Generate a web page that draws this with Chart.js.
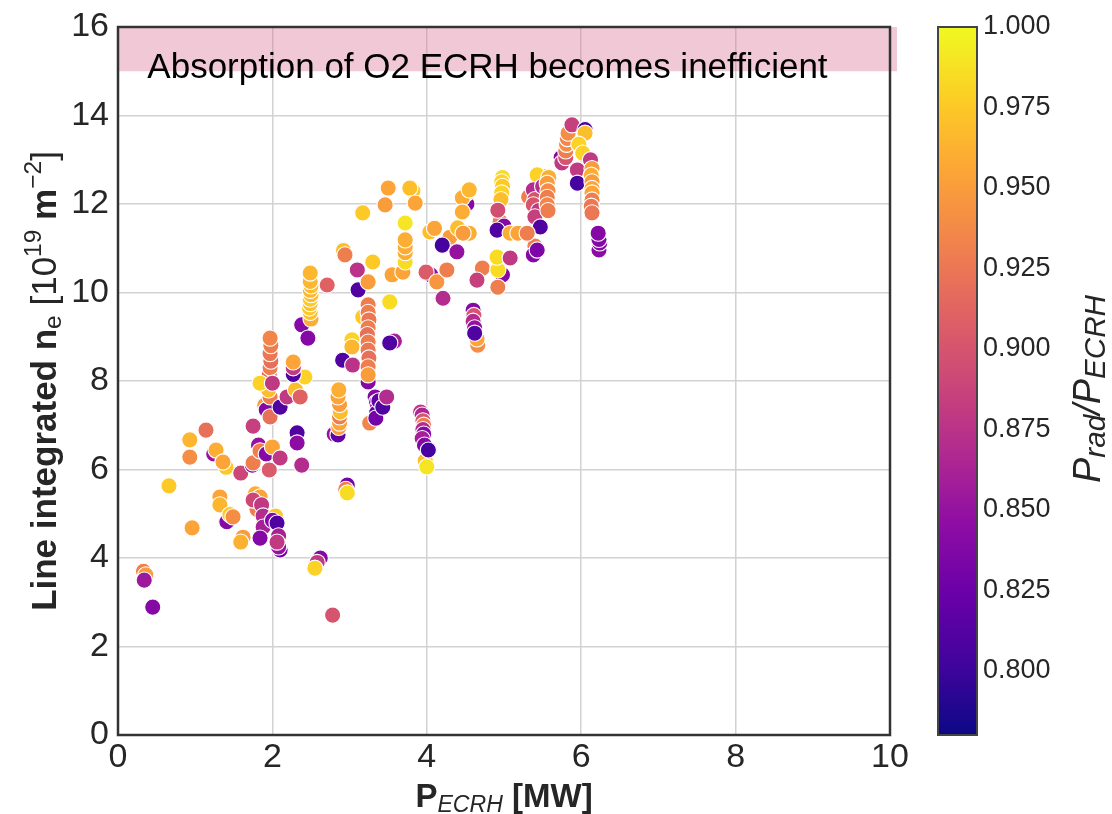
<!DOCTYPE html>
<html>
<head>
<meta charset="utf-8">
<script src="https://cdn.jsdelivr.net/npm/chart.js@4.4.1/dist/chart.umd.min.js"></script>
<style>
  html, body { margin: 0; padding: 0; background: #fff; }
  canvas { display: block; }
</style>
</head>
<body>
<canvas id="densityChart" width="1112" height="814"></canvas>
<script>
// ECRH power [MW], one line per group of shots
const pEcrh = [
  0.33, 0.36, 0.34, 0.45,
  0.66, 0.96, 0.93, 0.93, 1.14, 1.24, 1.27, 1.40, 1.36,
  1.32, 1.32, 1.41, 1.45, 1.49, 1.62, 1.59, 1.59,
  1.78, 1.84, 1.80, 1.75, 1.86, 1.88, 1.88, 2.04, 2.00, 2.06, 1.84, 2.08, 2.10, 2.08, 2.06,
  1.74, 1.75, 1.75, 1.82, 1.84, 1.92, 2.00, 1.96, 2.10, 2.32, 2.32, 2.38,
  1.97, 1.96, 1.97, 1.98, 1.97, 1.98, 1.97,
  1.90, 1.92, 1.97, 1.97, 1.95, 1.84, 2.00, 2.10, 2.19, 2.30, 2.36, 2.42, 2.27, 2.27, 2.27, 2.38, 2.46,
  2.50, 2.49, 2.48, 2.49, 2.49, 2.50, 2.49, 2.50, 2.49, 2.49, 2.71,
  2.80, 2.85, 2.86, 2.87, 2.87, 2.88, 2.87, 2.85, 2.86, 2.97, 2.95, 2.97, 2.62, 2.58, 2.55, 2.78,
  2.91, 3.03, 3.03, 3.04, 2.92, 2.94, 3.10, 3.11, 3.17,
  3.17, 3.24, 3.24, 3.25, 3.24, 3.23, 3.24, 3.24, 3.25, 3.24, 3.24, 3.24, 3.26, 3.24, 3.30,
  3.33, 3.35, 3.36, 3.35, 3.34, 3.38, 3.43, 3.48,
  3.58, 3.52, 3.52, 3.55, 3.69, 3.72, 3.72, 3.72, 3.72, 3.72, 3.50, 3.46, 3.82, 3.78, 3.85,
  3.92, 3.94, 3.95, 3.96, 3.95, 3.96, 3.94, 3.97, 3.98, 4.00, 4.02,
  4.04, 4.10, 4.30, 4.20, 4.05, 3.99, 4.13, 4.26, 4.21, 4.39, 4.40, 4.55, 4.47, 4.52, 4.52, 4.46, 4.46, 4.55,
  4.60, 4.61, 4.60, 4.62, 4.66, 4.65, 4.62, 4.72, 4.65,
  4.98, 4.97, 4.98, 4.97, 4.96, 4.95, 4.92, 5.00, 4.91, 4.98, 4.92, 4.92, 4.91, 5.08, 5.08, 5.18,
  5.32, 5.45, 5.52, 5.43, 5.38, 5.40, 5.38, 5.45, 5.40, 5.47, 5.40, 5.30, 5.38, 5.43,
  5.50, 5.58, 5.56, 5.57, 5.56, 5.56, 5.57,
  5.74, 5.75, 5.80, 5.80, 5.81, 5.82, 5.83, 5.88, 6.05, 6.05, 5.97, 6.02, 5.95, 5.95,
  6.12, 6.14, 6.13, 6.14, 6.14, 6.14, 6.14, 6.13, 6.14, 6.23, 6.24, 6.23, 6.22
];

// line integrated density [1e19 m^-2]
const lineNe = [
  3.70, 3.62, 3.50, 2.89,
  5.63, 4.68, 6.67, 6.28, 6.89, 6.35, 6.44, 6.05, 6.17,
  5.38, 5.20, 4.82, 4.98, 4.93, 4.47, 4.36, 5.92,
  5.45, 5.38, 5.10, 5.31, 5.20, 4.95, 4.70, 4.95, 4.85, 4.79, 4.45, 4.50, 4.18, 4.25, 4.36,
  6.10, 6.15, 6.98, 6.55, 6.42, 6.35, 6.51, 5.99, 6.26, 6.83, 6.60, 6.10,
  8.00, 8.15, 8.30, 8.45, 8.62, 8.80, 8.97,
  7.45, 7.35, 7.19, 7.64, 7.80, 7.95, 7.95, 7.41, 7.64, 7.80, 7.64, 8.09, 8.15, 8.30, 8.43, 9.27, 8.97,
  9.40, 9.55, 9.65, 9.75, 9.85, 9.95, 10.05, 10.15, 10.25, 10.44, 10.17,
  6.80, 6.78, 6.95, 7.05, 7.19, 7.30, 7.47, 7.64, 7.80, 5.65, 5.55, 5.47, 4.00, 3.90, 3.77, 2.71,
  8.47, 8.93, 8.77, 8.36, 10.95, 10.85, 10.51, 10.06, 11.80,
  9.45, 9.72, 9.55, 9.38, 9.20, 9.05, 8.88, 8.70, 8.52, 8.32, 7.98, 8.14, 7.05, 10.24, 10.69,
  7.64, 7.52, 7.40, 7.28, 7.16, 7.55, 7.41, 7.64,
  8.90, 8.86, 9.79, 10.40, 10.46, 10.69, 10.90, 11.03, 11.19, 11.57, 12.36, 11.98, 12.30, 12.36, 12.02,
  7.30, 7.23, 7.10, 7.00, 6.90, 6.80, 6.70, 6.55, 6.20, 6.06, 6.44,
  11.37, 11.45, 11.25, 11.07, 10.40, 10.46, 10.24, 10.51, 9.87, 10.92, 11.46, 11.34, 11.34, 12.00, 12.25, 12.14, 11.82, 12.32,
  9.60, 9.48, 9.35, 9.20, 8.81, 8.95, 9.08, 10.55, 10.28,
  12.60, 12.50, 12.40, 12.25, 12.10, 11.60, 11.86, 11.50, 11.41, 10.40, 10.12, 10.51, 10.80, 10.78, 11.34, 11.34,
  12.16, 12.55, 12.62, 12.66, 12.32, 12.10, 11.98, 11.85, 11.71, 11.48, 11.05, 11.34, 10.85, 10.96,
  12.40, 12.60, 12.47, 12.30, 12.15, 11.98, 11.85,
  13.05, 12.93, 13.05, 13.20, 13.35, 13.48, 13.60, 13.79, 13.68, 13.60, 13.35, 13.15, 12.77, 12.47,
  13.00, 12.80, 12.65, 12.50, 12.35, 12.25, 12.09, 11.95, 11.80, 10.96, 11.12, 11.20, 11.34
];

// radiated fraction P_rad / P_ECRH
const radFrac = [
  0.930, 0.950, 0.855, 0.840,
  0.975, 0.955, 0.965, 0.940, 0.920, 0.850, 0.960, 0.975, 0.955,
  0.955, 0.965, 0.840, 0.975, 0.940, 0.950, 0.962, 0.890,
  0.960, 0.955, 0.930, 0.890, 0.880, 0.870, 0.860, 0.975, 0.840, 0.810, 0.840, 0.860, 0.830, 0.850, 0.880,
  0.840, 0.930, 0.885, 0.850, 0.930, 0.840, 0.955, 0.905, 0.880, 0.810, 0.845, 0.870,
  0.920, 0.915, 0.930, 0.920, 0.925, 0.930, 0.935,
  0.950, 0.840, 0.920, 0.930, 0.970, 0.980, 0.880, 0.810, 0.880, 0.970, 0.910, 0.980, 0.810, 0.880, 0.955, 0.840, 0.840,
  0.960, 0.970, 0.975, 0.970, 0.975, 0.970, 0.965, 0.970, 0.965, 0.965, 0.910,
  0.850, 0.820, 0.950, 0.955, 0.930, 0.970, 0.950, 0.955, 0.960, 0.830, 0.930, 0.985, 0.840, 0.880, 0.980, 0.900,
  0.810, 0.980, 0.965, 0.875, 0.970, 0.930, 0.875, 0.810, 0.975,
  0.975, 0.930, 0.930, 0.925, 0.930, 0.920, 0.930, 0.925, 0.920, 0.930, 0.840, 0.950, 0.935, 0.950, 0.975,
  0.840, 0.830, 0.850, 0.820, 0.830, 0.820, 0.810, 0.870,
  0.860, 0.810, 0.985, 0.955, 0.955, 0.985, 0.960, 0.960, 0.960, 0.990, 0.955, 0.950, 0.975, 0.970, 0.955,
  0.880, 0.865, 0.900, 0.930, 0.870, 0.840, 0.860, 0.840, 0.970, 0.990, 0.805,
  0.970, 0.955, 0.950, 0.805, 0.840, 0.905, 0.945, 0.930, 0.870, 0.850, 0.970, 0.960, 0.950, 0.840, 0.980, 0.960, 0.960, 0.965,
  0.840, 0.900, 0.870, 0.850, 0.940, 0.955, 0.810, 0.930, 0.885,
  0.985, 0.980, 0.975, 0.980, 0.970, 0.930, 0.895, 0.840, 0.810, 0.840, 0.930, 0.985, 0.985, 0.880, 0.960, 0.955,
  0.930, 0.975, 0.970, 0.980, 0.870, 0.900, 0.900, 0.880, 0.885, 0.810, 0.930, 0.930, 0.840, 0.835,
  0.870, 0.960, 0.950, 0.940, 0.930, 0.935, 0.930,
  0.840, 0.880, 0.900, 0.930, 0.940, 0.935, 0.940, 0.885, 0.810, 0.970, 0.980, 0.980, 0.880, 0.805,
  0.880, 0.950, 0.960, 0.950, 0.955, 0.955, 0.930, 0.925, 0.925, 0.845, 0.840, 0.840, 0.840
];

const xRange = [0, 10];
const yRange = [0, 16];
const cbRange = [0.78, 1.0];
const cbTicks = [0.800, 0.825, 0.850, 0.875, 0.900, 0.925, 0.950, 0.975, 1.000];
const bandRange = [15, 16];
const bandText = 'Absorption of O2 ECRH becomes inefficient';

const FONT = "'Liberation Sans', Arial, Helvetica, sans-serif";
const TEXT = '#262626';

// matplotlib "plasma", sampled every 0.1
const plasmaStops = ['#0d0887', '#41049d', '#6a00a8', '#8f0da4', '#b12a90', '#cc4778',
                     '#e16462', '#f2844b', '#fca636', '#fcce25', '#f0f921'];

function hexToRgb(h) {
  return [parseInt(h.slice(1, 3), 16), parseInt(h.slice(3, 5), 16), parseInt(h.slice(5, 7), 16)];
}

function plasma(t) {
  t = Math.max(0, Math.min(1, t));
  const f = t * (plasmaStops.length - 1);
  const i = Math.min(Math.floor(f), plasmaStops.length - 2);
  const k = f - i;
  const a = hexToRgb(plasmaStops[i]), b = hexToRgb(plasmaStops[i + 1]);
  const c = a.map((v, j) => Math.round(v + (b[j] - v) * k));
  return `rgb(${c[0]},${c[1]},${c[2]})`;
}

function fracColor(v) {
  return plasma((v - cbRange[0]) / (cbRange[1] - cbRange[0]));
}

// text with sub/superscripts, centred on (cx, cy)
function drawRichText(ctx, parts, cx, cy, size, angle) {
  ctx.save();
  ctx.translate(cx, cy);
  ctx.rotate(angle);
  ctx.textAlign = 'left';
  ctx.textBaseline = 'alphabetic';
  ctx.fillStyle = TEXT;
  const fontFor = p => (p.italic ? 'italic ' : '') + (p.bold ? 'bold ' : '') +
    (p.script ? size * (p.scale || 0.7) : size) + 'px ' + FONT;
  const widths = parts.map(p => { ctx.font = fontFor(p); return ctx.measureText(p.text).width; });
  let x = -widths.reduce((s, w) => s + w, 0) / 2;
  parts.forEach((p, i) => {
    ctx.font = fontFor(p);
    let dy = size * 0.36;
    if (p.script === 'sub') dy += size * 0.14;
    if (p.script === 'sup') dy -= size * 0.42;
    ctx.fillText(p.text, x, dy);
    x += widths[i];
  });
  ctx.restore();
}

const points = pEcrh.map((x, i) => ({ x: x, y: lineNe[i], c: radFrac[i] }));

// pink band where O2 heating stops working
const bandPlugin = {
  id: 'band',
  beforeDatasetsDraw(chart) {
    const { ctx, chartArea, scales } = chart;
    const yTop = scales.y.getPixelForValue(bandRange[1]);
    const yBot = scales.y.getPixelForValue(bandRange[0]);
    ctx.save();
    ctx.fillStyle = 'rgba(219,112,147,0.38)';
    ctx.fillRect(chartArea.left, yTop, chartArea.right - chartArea.left + 7, yBot - yTop);
    ctx.fillStyle = '#000';
    ctx.font = '35px ' + FONT;
    ctx.textBaseline = 'middle';
    ctx.fillText(bandText, scales.x.getPixelForValue(0.38), scales.y.getPixelForValue(15.06));
    ctx.restore();
  }
};

// frame, colorbar and axis titles
const decorPlugin = {
  id: 'decor',
  afterDraw(chart) {
    const { ctx, chartArea, scales } = chart;
    ctx.save();
    ctx.strokeStyle = '#333';
    ctx.lineWidth = 2.5;
    ctx.strokeRect(chartArea.left, chartArea.top, chartArea.right - chartArea.left, chartArea.bottom - chartArea.top);

    const cb = scales.cb;
    const top = cb.getPixelForValue(cbRange[1]);
    const bot = cb.getPixelForValue(cbRange[0]);
    const left = 938, width = 39;
    const grad = ctx.createLinearGradient(0, bot, 0, top);
    plasmaStops.forEach((c, i) => grad.addColorStop(i / (plasmaStops.length - 1), c));
    ctx.fillStyle = grad;
    ctx.fillRect(left, top, width, bot - top);
    ctx.lineWidth = 2;
    ctx.strokeStyle = '#444';
    ctx.strokeRect(left, top, width, bot - top);
    ctx.restore();

    drawRichText(ctx, [
      { text: 'Line integrated n', bold: true },
      { text: 'e', script: 'sub' },
      { text: ' [10' },
      { text: '19', script: 'sup' },
      { text: ' m', bold: true },
      { text: '\u22122', script: 'sup' },
      { text: ']' }
    ], 43, (chartArea.top + chartArea.bottom) / 2, 35, -Math.PI / 2);

    drawRichText(ctx, [
      { text: 'P', bold: true },
      { text: 'ECRH', italic: true, script: 'sub' },
      { text: ' [MW]', bold: true }
    ], (chartArea.left + chartArea.right) / 2, 795, 33, 0);

    drawRichText(ctx, [
      { text: 'P', italic: true },
      { text: 'rad', italic: true, script: 'sub', scale: 0.78 },
      { text: '/P', italic: true },
      { text: 'ECRH', italic: true, script: 'sub', scale: 0.78 }
    ], 1086, (top + bot) / 2 + 8, 38, -Math.PI / 2);
  }
};

const ctx = document.getElementById('densityChart').getContext('2d');
const densityChart = new Chart(ctx, {
  type: 'scatter',
  data: {
    datasets: [{
      data: points,
      pointRadius: 8.1,
      pointHoverRadius: 8.1,
      pointBorderWidth: 1.1,
      pointBorderColor: '#ffffff',
      pointBackgroundColor: c => fracColor(c.raw.c)
    }]
  },
  options: {
    responsive: false,
    animation: false,
    layout: { padding: { top: 27, left: 0, right: 0, bottom: 0 } },
    plugins: { legend: { display: false }, tooltip: { enabled: false } },
    scales: {
      x: {
        type: 'linear',
        min: xRange[0],
        max: xRange[1],
        border: { display: false },
        grid: { color: '#d2d2d2', lineWidth: 1.5, drawTicks: false },
        ticks: { stepSize: 2, padding: 6, color: TEXT, font: { family: FONT, size: 34, lineHeight: 1 } },
        afterFit: s => { s.height = 79; }
      },
      y: {
        type: 'linear',
        min: yRange[0],
        max: yRange[1],
        border: { display: false },
        grid: { color: '#d2d2d2', lineWidth: 1.5, drawTicks: false },
        ticks: { stepSize: 2, padding: 9, color: TEXT, font: { family: FONT, size: 34, lineHeight: 1 } },
        afterFit: s => { s.width = 118; }
      },
      cb: {
        type: 'linear',
        position: 'right',
        min: cbRange[0],
        max: cbRange[1],
        border: { display: false },
        // tick marks are hidden; their length only pushes the labels clear of the bar
        grid: { display: false, drawTicks: true, tickLength: 89 },
        afterBuildTicks: s => { s.ticks = cbTicks.map(v => ({ value: v })); },
        ticks: {
          padding: 4,
          color: TEXT,
          font: { family: FONT, size: 27, lineHeight: 1 },
          callback: v => v.toFixed(3)
        },
        afterFit: s => { s.width = 222; }
      }
    }
  },
  plugins: [bandPlugin, decorPlugin]
});
</script>
</body>
</html>
